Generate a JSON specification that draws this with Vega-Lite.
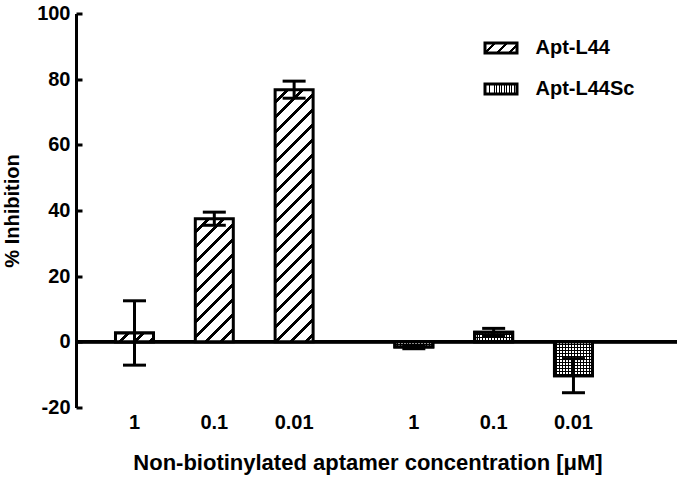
{
"$schema": "https://vega.github.io/schema/vega-lite/v6.json",
"width": 601, "height": 394,
"autosize": "none",
"padding": {"left": 76, "top": 13.5, "right": 5, "bottom": 71.5},
"background": "white",
"config": {"view": {"stroke": null}, "font": "Liberation Sans", "axisY": {"ticks": true, "tickSize": -6, "tickColor": "#000", "tickWidth": 3, "tickOpacity": 1}},
"data": {"values": [
 {"key": "L44 1", "series": "Apt-L44", "conc": "1", "value": 2.7, "err": 9.8},
 {"key": "L44 0.1", "series": "Apt-L44", "conc": "0.1", "value": 37.5, "err": 2.0},
 {"key": "L44 0.01", "series": "Apt-L44", "conc": "0.01", "value": 76.8, "err": 2.6},
 {"key": "Sc 1", "series": "Apt-L44Sc", "conc": "1", "value": -1.6, "err": 0.5},
 {"key": "Sc 0.1", "series": "Apt-L44Sc", "conc": "0.1", "value": 2.9, "err": 1.2},
 {"key": "Sc 0.01", "series": "Apt-L44Sc", "conc": "0.01", "value": -10.3, "err": 5.2}
]},
"layer": [
 {"transform": [{"filter": "datum.key === 'L44 1'"}],
  "mark": {"type": "bar", "width": 38, "strokeWidth": 3,
   "fill": {"gradient": "linear", "x1": 0, "y1": 0, "x2": 7.4873, "y2": 1.7467, "stops": [
        {"offset":0,"color":"#fff"},{"offset":0.0367,"color":"#fff"},{"offset":0.0367,"color":"#000"},{"offset":0.05,"color":"#000"},
        {"offset":0.05,"color":"#fff"},{"offset":0.0867,"color":"#fff"},{"offset":0.0867,"color":"#000"},{"offset":0.1,"color":"#000"},
        {"offset":0.1,"color":"#fff"},{"offset":0.1367,"color":"#fff"},{"offset":0.1367,"color":"#000"},{"offset":0.15,"color":"#000"},
        {"offset":0.15,"color":"#fff"},{"offset":0.1867,"color":"#fff"},{"offset":0.1867,"color":"#000"},{"offset":0.2,"color":"#000"},
        {"offset":0.2,"color":"#fff"}]}},
  "encoding": {
   "x": {"field": "key", "type": "nominal",
     "scale": {"domain": ["L44 1","gap1","L44 0.1","gap2","L44 0.01","gap3","gap4","Sc 1","gap5","Sc 0.1","gap6","Sc 0.01","gap7","gap8"], "paddingInner": 0, "paddingOuter": 0.53, "align": 0.911},
     "axis": {"title": "Non-biotinylated aptamer concentration [μM]",
       "labelExpr": "indexof(datum.value, 'gap') === 0 ? '' : split(datum.value, ' ')[1]",
       "domain": false, "ticks": false, "tickSize": 0, "labelAngle": 0,
       "labelFont": "Liberation Sans", "labelFontSize": 20, "labelFontWeight": "bold", "labelColor": "#000",
       "labelPadding": 21, "labelBaseline": "alphabetic",
       "titleFont": "Liberation Sans", "titleFontSize": 22, "titleFontWeight": "bold", "titleColor": "#000",
       "titleX": 291.5, "titleY": 62, "titleBaseline": "alphabetic", "titleAlign": "center"}},
   "y": {"field": "value", "type": "quantitative",
     "scale": {"domain": [-20, 100], "nice": false, "zero": false},
     "axis": {"title": "% Inhibition", "zindex": 1,
       "values": [-20,-15,-10,-5,0,5,10,15,20,25,30,35,40,45,50,55,60,65,70,75,80,85,90,95,100],
       "labelExpr": "datum.value % 20 === 0 ? '' + datum.value : ''",
       "grid": false, "domainColor": "#000", "domainWidth": 3,
       "ticks": true, "tickColor": "#000", "tickWidth": 3, "tickSize": -6, "tickOpacity": 1,
       "labelFont": "Liberation Sans", "labelFontSize": 20, "labelFontWeight": "bold", "labelColor": "#000", "labelPadding": 12,
       "titleFont": "Liberation Sans", "titleFontSize": 20, "titleFontWeight": "bold", "titleColor": "#000",
       "titleX": -57.5, "titleY": 197, "titleAngle": -90, "titleBaseline": "alphabetic", "titleAlign": "center"}},
   "stroke": {"field": "series", "type": "nominal",
     "scale": {"domain": ["Apt-L44", "Apt-L44Sc"], "range": ["#000", "#000"]},
     "legend": {"title": null, "orient": "none", "legendX": 407.5, "legendY": 17,
       "symbolType": "M-1,-0.3125H1V0.3125H-1Z", "symbolSize": 1024, "symbolStrokeWidth": 3, "symbolStrokeColor": "#000", "symbolOpacity": 1,
       "labelFont": "Liberation Sans", "labelFontSize": 20, "labelFontWeight": "bold", "labelColor": "#000",
       "labelOffset": 17, "rowPadding": 12, "padding": 0,
       "encoding": {"symbols": {
         "fill": {
          "condition": {"test": "datum.value === 'Apt-L44'", "value": {"gradient": "linear", "x1": 0, "y1": 0, "x2": 6.8327, "y2": 2.1352, "stops": [
           {"offset":0,"color":"#fff"},{"offset":0.0367,"color":"#fff"},{"offset":0.0367,"color":"#000"},{"offset":0.05,"color":"#000"},
           {"offset":0.05,"color":"#fff"},{"offset":0.0867,"color":"#fff"},{"offset":0.0867,"color":"#000"},{"offset":0.1,"color":"#000"},
           {"offset":0.1,"color":"#fff"},{"offset":0.1367,"color":"#fff"},{"offset":0.1367,"color":"#000"},{"offset":0.15,"color":"#000"},
           {"offset":0.15,"color":"#fff"},{"offset":0.1867,"color":"#fff"},{"offset":0.1867,"color":"#000"},{"offset":0.2,"color":"#000"},
           {"offset":0.2,"color":"#fff"}]}},
          "value": {"gradient": "linear", "x1": 0, "y1": 0, "x2": 1, "y2": 0, "stops": [
           {"offset":0,"color":"#fff"},{"offset":0.0506,"color":"#fff"},{"offset":0.0506,"color":"#000"},{"offset":0.0769,"color":"#000"},
           {"offset":0.0769,"color":"#fff"},{"offset":0.1275,"color":"#fff"},{"offset":0.1275,"color":"#000"},{"offset":0.1538,"color":"#000"},
           {"offset":0.1538,"color":"#fff"},{"offset":0.2044,"color":"#fff"},{"offset":0.2044,"color":"#000"},{"offset":0.2308,"color":"#000"},
           {"offset":0.2308,"color":"#fff"},{"offset":0.2814,"color":"#fff"},{"offset":0.2814,"color":"#000"},{"offset":0.3077,"color":"#000"},
           {"offset":0.3077,"color":"#fff"},{"offset":0.3583,"color":"#fff"},{"offset":0.3583,"color":"#000"},{"offset":0.3846,"color":"#000"},
           {"offset":0.3846,"color":"#fff"},{"offset":0.4352,"color":"#fff"},{"offset":0.4352,"color":"#000"},{"offset":0.4615,"color":"#000"},
           {"offset":0.4615,"color":"#fff"},{"offset":0.5121,"color":"#fff"},{"offset":0.5121,"color":"#000"},{"offset":0.5385,"color":"#000"},
           {"offset":0.5385,"color":"#fff"},{"offset":0.5891,"color":"#fff"},{"offset":0.5891,"color":"#000"},{"offset":0.6154,"color":"#000"},
           {"offset":0.6154,"color":"#fff"},{"offset":0.666,"color":"#fff"},{"offset":0.666,"color":"#000"},{"offset":0.6923,"color":"#000"},
           {"offset":0.6923,"color":"#fff"},{"offset":0.7429,"color":"#fff"},{"offset":0.7429,"color":"#000"},{"offset":0.7692,"color":"#000"},
           {"offset":0.7692,"color":"#fff"},{"offset":0.8198,"color":"#fff"},{"offset":0.8198,"color":"#000"},{"offset":0.8462,"color":"#000"},
           {"offset":0.8462,"color":"#fff"},{"offset":0.8968,"color":"#fff"},{"offset":0.8968,"color":"#000"},{"offset":0.9231,"color":"#000"},
           {"offset":0.9231,"color":"#fff"},{"offset":0.9737,"color":"#fff"},{"offset":0.9737,"color":"#000"},{"offset":1,"color":"#000"}]}},
         "stroke": {"value": "#000"}, "strokeWidth": {"value": 3}, "opacity": {"value": 1}}}}}
  }},
 {"mark": {"type": "rule", "color": "#000", "strokeWidth": 3},
  "encoding": {"y": {"datum": 0, "type": "quantitative"}}},
 {"transform": [{"filter": "datum.key === 'L44 1'"}],
  "mark": {"type": "bar", "width": 38, "stroke": "#000", "strokeWidth": 3,
   "fill": {"gradient": "linear", "x1": 0, "y1": 0, "x2": 7.4873, "y2": 1.7467, "stops": [
        {"offset":0,"color":"#fff"},{"offset":0.0367,"color":"#fff"},{"offset":0.0367,"color":"#000"},{"offset":0.05,"color":"#000"},
        {"offset":0.05,"color":"#fff"},{"offset":0.0867,"color":"#fff"},{"offset":0.0867,"color":"#000"},{"offset":0.1,"color":"#000"},
        {"offset":0.1,"color":"#fff"},{"offset":0.1367,"color":"#fff"},{"offset":0.1367,"color":"#000"},{"offset":0.15,"color":"#000"},
        {"offset":0.15,"color":"#fff"},{"offset":0.1867,"color":"#fff"},{"offset":0.1867,"color":"#000"},{"offset":0.2,"color":"#000"},
        {"offset":0.2,"color":"#fff"}]}},
  "encoding": {"x": {"field": "key", "type": "nominal"}, "y": {"field": "value", "type": "quantitative"}}},
 {"transform": [{"filter": "datum.key === 'L44 0.1'"}],
  "mark": {"type": "bar", "width": 38, "stroke": "#000", "strokeWidth": 3,
   "fill": {"gradient": "linear", "x1": 0, "y1": 0, "x2": 0.6866, "y2": 2.2247, "stops": [
        {"offset":0,"color":"#fff"},{"offset":0.0367,"color":"#fff"},{"offset":0.0367,"color":"#000"},{"offset":0.05,"color":"#000"},
        {"offset":0.05,"color":"#fff"},{"offset":0.0867,"color":"#fff"},{"offset":0.0867,"color":"#000"},{"offset":0.1,"color":"#000"},
        {"offset":0.1,"color":"#fff"},{"offset":0.1367,"color":"#fff"},{"offset":0.1367,"color":"#000"},{"offset":0.15,"color":"#000"},
        {"offset":0.15,"color":"#fff"},{"offset":0.1867,"color":"#fff"},{"offset":0.1867,"color":"#000"},{"offset":0.2,"color":"#000"},
        {"offset":0.2,"color":"#fff"},{"offset":0.2367,"color":"#fff"},{"offset":0.2367,"color":"#000"},{"offset":0.25,"color":"#000"},
        {"offset":0.25,"color":"#fff"},{"offset":0.2867,"color":"#fff"},{"offset":0.2867,"color":"#000"},{"offset":0.3,"color":"#000"},
        {"offset":0.3,"color":"#fff"},{"offset":0.3367,"color":"#fff"},{"offset":0.3367,"color":"#000"},{"offset":0.35,"color":"#000"},
        {"offset":0.35,"color":"#fff"},{"offset":0.3867,"color":"#fff"},{"offset":0.3867,"color":"#000"},{"offset":0.4,"color":"#000"},
        {"offset":0.4,"color":"#fff"},{"offset":0.4367,"color":"#fff"},{"offset":0.4367,"color":"#000"},{"offset":0.45,"color":"#000"},
        {"offset":0.45,"color":"#fff"},{"offset":0.4867,"color":"#fff"},{"offset":0.4867,"color":"#000"},{"offset":0.5,"color":"#000"},
        {"offset":0.5,"color":"#fff"},{"offset":0.5367,"color":"#fff"},{"offset":0.5367,"color":"#000"},{"offset":0.55,"color":"#000"},
        {"offset":0.55,"color":"#fff"}]}},
  "encoding": {"x": {"field": "key", "type": "nominal"}, "y": {"field": "value", "type": "quantitative"}}},
 {"transform": [{"filter": "datum.key === 'L44 0.01'"}],
  "mark": {"type": "bar", "width": 38, "stroke": "#000", "strokeWidth": 3,
   "fill": {"gradient": "linear", "x1": 0, "y1": 0, "x2": 0.17531, "y2": 1.1633, "stops": [
        {"offset":0,"color":"#fff"},{"offset":0.0367,"color":"#fff"},{"offset":0.0367,"color":"#000"},{"offset":0.05,"color":"#000"},
        {"offset":0.05,"color":"#fff"},{"offset":0.0867,"color":"#fff"},{"offset":0.0867,"color":"#000"},{"offset":0.1,"color":"#000"},
        {"offset":0.1,"color":"#fff"},{"offset":0.1367,"color":"#fff"},{"offset":0.1367,"color":"#000"},{"offset":0.15,"color":"#000"},
        {"offset":0.15,"color":"#fff"},{"offset":0.1867,"color":"#fff"},{"offset":0.1867,"color":"#000"},{"offset":0.2,"color":"#000"},
        {"offset":0.2,"color":"#fff"},{"offset":0.2367,"color":"#fff"},{"offset":0.2367,"color":"#000"},{"offset":0.25,"color":"#000"},
        {"offset":0.25,"color":"#fff"},{"offset":0.2867,"color":"#fff"},{"offset":0.2867,"color":"#000"},{"offset":0.3,"color":"#000"},
        {"offset":0.3,"color":"#fff"},{"offset":0.3367,"color":"#fff"},{"offset":0.3367,"color":"#000"},{"offset":0.35,"color":"#000"},
        {"offset":0.35,"color":"#fff"},{"offset":0.3867,"color":"#fff"},{"offset":0.3867,"color":"#000"},{"offset":0.4,"color":"#000"},
        {"offset":0.4,"color":"#fff"},{"offset":0.4367,"color":"#fff"},{"offset":0.4367,"color":"#000"},{"offset":0.45,"color":"#000"},
        {"offset":0.45,"color":"#fff"},{"offset":0.4867,"color":"#fff"},{"offset":0.4867,"color":"#000"},{"offset":0.5,"color":"#000"},
        {"offset":0.5,"color":"#fff"},{"offset":0.5367,"color":"#fff"},{"offset":0.5367,"color":"#000"},{"offset":0.55,"color":"#000"},
        {"offset":0.55,"color":"#fff"},{"offset":0.5867,"color":"#fff"},{"offset":0.5867,"color":"#000"},{"offset":0.6,"color":"#000"},
        {"offset":0.6,"color":"#fff"},{"offset":0.6367,"color":"#fff"},{"offset":0.6367,"color":"#000"},{"offset":0.65,"color":"#000"},
        {"offset":0.65,"color":"#fff"},{"offset":0.6867,"color":"#fff"},{"offset":0.6867,"color":"#000"},{"offset":0.7,"color":"#000"},
        {"offset":0.7,"color":"#fff"},{"offset":0.7367,"color":"#fff"},{"offset":0.7367,"color":"#000"},{"offset":0.75,"color":"#000"},
        {"offset":0.75,"color":"#fff"},{"offset":0.7867,"color":"#fff"},{"offset":0.7867,"color":"#000"},{"offset":0.8,"color":"#000"},
        {"offset":0.8,"color":"#fff"},{"offset":0.8367,"color":"#fff"},{"offset":0.8367,"color":"#000"},{"offset":0.85,"color":"#000"},
        {"offset":0.85,"color":"#fff"},{"offset":0.8867,"color":"#fff"},{"offset":0.8867,"color":"#000"},{"offset":0.9,"color":"#000"},
        {"offset":0.9,"color":"#fff"},{"offset":0.9367,"color":"#fff"},{"offset":0.9367,"color":"#000"},{"offset":0.95,"color":"#000"},
        {"offset":0.95,"color":"#fff"},{"offset":0.9867,"color":"#fff"},{"offset":0.9867,"color":"#000"},{"offset":1,"color":"#000"}]}},
  "encoding": {"x": {"field": "key", "type": "nominal"}, "y": {"field": "value", "type": "quantitative"}}},
 {"transform": [{"filter": "datum.key === 'Sc 1'"}],
  "mark": {"type": "bar", "width": 38, "stroke": "#000", "strokeWidth": 3,
   "fill": {"gradient": "linear", "x1": 0, "y1": 0, "x2": 0, "y2": 6.853, "stops": [
        {"offset":0,"color":"#fff"},{"offset":0.0556,"color":"#fff"},{"offset":0.0556,"color":"#000"},{"offset":0.0833,"color":"#000"},
        {"offset":0.0833,"color":"#fff"},{"offset":0.1389,"color":"#fff"},{"offset":0.1389,"color":"#000"},{"offset":0.1667,"color":"#000"}]}},
  "encoding": {"x": {"field": "key", "type": "nominal"}, "y": {"field": "value", "type": "quantitative"}}},
 {"transform": [{"filter": "datum.key === 'Sc 0.1'"}],
  "mark": {"type": "bar", "width": 38, "stroke": "#000", "strokeWidth": 3,
   "fill": {"gradient": "linear", "x1": 0, "y1": 0, "x2": 0, "y2": 3.781, "stops": [
        {"offset":0,"color":"#fff"},{"offset":0.0556,"color":"#fff"},{"offset":0.0556,"color":"#000"},{"offset":0.0833,"color":"#000"},
        {"offset":0.0833,"color":"#fff"},{"offset":0.1389,"color":"#fff"},{"offset":0.1389,"color":"#000"},{"offset":0.1667,"color":"#000"},
        {"offset":0.1667,"color":"#fff"},{"offset":0.2222,"color":"#fff"},{"offset":0.2222,"color":"#000"},{"offset":0.25,"color":"#000"},
        {"offset":0.25,"color":"#fff"},{"offset":0.3056,"color":"#fff"},{"offset":0.3056,"color":"#000"},{"offset":0.3333,"color":"#000"}]}},
  "encoding": {"x": {"field": "key", "type": "nominal"}, "y": {"field": "value", "type": "quantitative"}}},
 {"transform": [{"filter": "datum.key === 'Sc 0.01'"}],
  "mark": {"type": "bar", "width": 38, "stroke": "#000", "strokeWidth": 3,
   "fill": {"gradient": "linear", "x1": 0, "y1": 0, "x2": 0, "y2": 1.0645, "stops": [
        {"offset":0,"color":"#fff"},{"offset":0.0556,"color":"#fff"},{"offset":0.0556,"color":"#000"},{"offset":0.0833,"color":"#000"},
        {"offset":0.0833,"color":"#fff"},{"offset":0.1389,"color":"#fff"},{"offset":0.1389,"color":"#000"},{"offset":0.1667,"color":"#000"},
        {"offset":0.1667,"color":"#fff"},{"offset":0.2222,"color":"#fff"},{"offset":0.2222,"color":"#000"},{"offset":0.25,"color":"#000"},
        {"offset":0.25,"color":"#fff"},{"offset":0.3056,"color":"#fff"},{"offset":0.3056,"color":"#000"},{"offset":0.3333,"color":"#000"},
        {"offset":0.3333,"color":"#fff"},{"offset":0.3889,"color":"#fff"},{"offset":0.3889,"color":"#000"},{"offset":0.4167,"color":"#000"},
        {"offset":0.4167,"color":"#fff"},{"offset":0.4722,"color":"#fff"},{"offset":0.4722,"color":"#000"},{"offset":0.5,"color":"#000"},
        {"offset":0.5,"color":"#fff"},{"offset":0.5556,"color":"#fff"},{"offset":0.5556,"color":"#000"},{"offset":0.5833,"color":"#000"},
        {"offset":0.5833,"color":"#fff"},{"offset":0.6389,"color":"#fff"},{"offset":0.6389,"color":"#000"},{"offset":0.6667,"color":"#000"},
        {"offset":0.6667,"color":"#fff"},{"offset":0.7222,"color":"#fff"},{"offset":0.7222,"color":"#000"},{"offset":0.75,"color":"#000"},
        {"offset":0.75,"color":"#fff"},{"offset":0.8056,"color":"#fff"},{"offset":0.8056,"color":"#000"},{"offset":0.8333,"color":"#000"},
        {"offset":0.8333,"color":"#fff"},{"offset":0.8889,"color":"#fff"},{"offset":0.8889,"color":"#000"},{"offset":0.9167,"color":"#000"},
        {"offset":0.9167,"color":"#fff"},{"offset":0.9722,"color":"#fff"},{"offset":0.9722,"color":"#000"},{"offset":1,"color":"#000"}]}},
  "encoding": {"x": {"field": "key", "type": "nominal"}, "y": {"field": "value", "type": "quantitative"}}},
 {"transform": [{"filter": "datum.series === 'Apt-L44Sc'"}],
  "mark": {"type": "bar", "width": 38, "stroke": "#000", "strokeWidth": 3,
    "fill": {"gradient": "linear", "x1": 0, "y1": 0, "x2": 1, "y2": 0, "stops": [
      {"offset":0,"color":"rgba(0,0,0,0)"},{"offset":0.0506,"color":"rgba(0,0,0,0)"},{"offset":0.0506,"color":"#000"},{"offset":0.0769,"color":"#000"},
      {"offset":0.0769,"color":"rgba(0,0,0,0)"},{"offset":0.1275,"color":"rgba(0,0,0,0)"},{"offset":0.1275,"color":"#000"},{"offset":0.1538,"color":"#000"},
      {"offset":0.1538,"color":"rgba(0,0,0,0)"},{"offset":0.2044,"color":"rgba(0,0,0,0)"},{"offset":0.2044,"color":"#000"},{"offset":0.2308,"color":"#000"},
      {"offset":0.2308,"color":"rgba(0,0,0,0)"},{"offset":0.2814,"color":"rgba(0,0,0,0)"},{"offset":0.2814,"color":"#000"},{"offset":0.3077,"color":"#000"},
      {"offset":0.3077,"color":"rgba(0,0,0,0)"},{"offset":0.3583,"color":"rgba(0,0,0,0)"},{"offset":0.3583,"color":"#000"},{"offset":0.3846,"color":"#000"},
      {"offset":0.3846,"color":"rgba(0,0,0,0)"},{"offset":0.4352,"color":"rgba(0,0,0,0)"},{"offset":0.4352,"color":"#000"},{"offset":0.4615,"color":"#000"},
      {"offset":0.4615,"color":"rgba(0,0,0,0)"},{"offset":0.5121,"color":"rgba(0,0,0,0)"},{"offset":0.5121,"color":"#000"},{"offset":0.5385,"color":"#000"},
      {"offset":0.5385,"color":"rgba(0,0,0,0)"},{"offset":0.5891,"color":"rgba(0,0,0,0)"},{"offset":0.5891,"color":"#000"},{"offset":0.6154,"color":"#000"},
      {"offset":0.6154,"color":"rgba(0,0,0,0)"},{"offset":0.666,"color":"rgba(0,0,0,0)"},{"offset":0.666,"color":"#000"},{"offset":0.6923,"color":"#000"},
      {"offset":0.6923,"color":"rgba(0,0,0,0)"},{"offset":0.7429,"color":"rgba(0,0,0,0)"},{"offset":0.7429,"color":"#000"},{"offset":0.7692,"color":"#000"},
      {"offset":0.7692,"color":"rgba(0,0,0,0)"},{"offset":0.8198,"color":"rgba(0,0,0,0)"},{"offset":0.8198,"color":"#000"},{"offset":0.8462,"color":"#000"},
      {"offset":0.8462,"color":"rgba(0,0,0,0)"},{"offset":0.8968,"color":"rgba(0,0,0,0)"},{"offset":0.8968,"color":"#000"},{"offset":0.9231,"color":"#000"},
      {"offset":0.9231,"color":"rgba(0,0,0,0)"},{"offset":0.9737,"color":"rgba(0,0,0,0)"},{"offset":0.9737,"color":"#000"},{"offset":1,"color":"#000"}]}},
  "encoding": {"x": {"field": "key", "type": "nominal"}, "y": {"field": "value", "type": "quantitative"}}},
 {"mark": {"type": "errorbar", "color": "#000", "opacity": 1, "ticks": {"size": 23, "thickness": 3, "color": "#000", "opacity": 1}, "rule": {"strokeWidth": 3, "color": "#000", "opacity": 1}},
  "encoding": {
   "x": {"field": "key", "type": "nominal"},
   "y": {"field": "value", "type": "quantitative", "title": "% Inhibition"},
   "yError": {"field": "err"}}}
]
}
